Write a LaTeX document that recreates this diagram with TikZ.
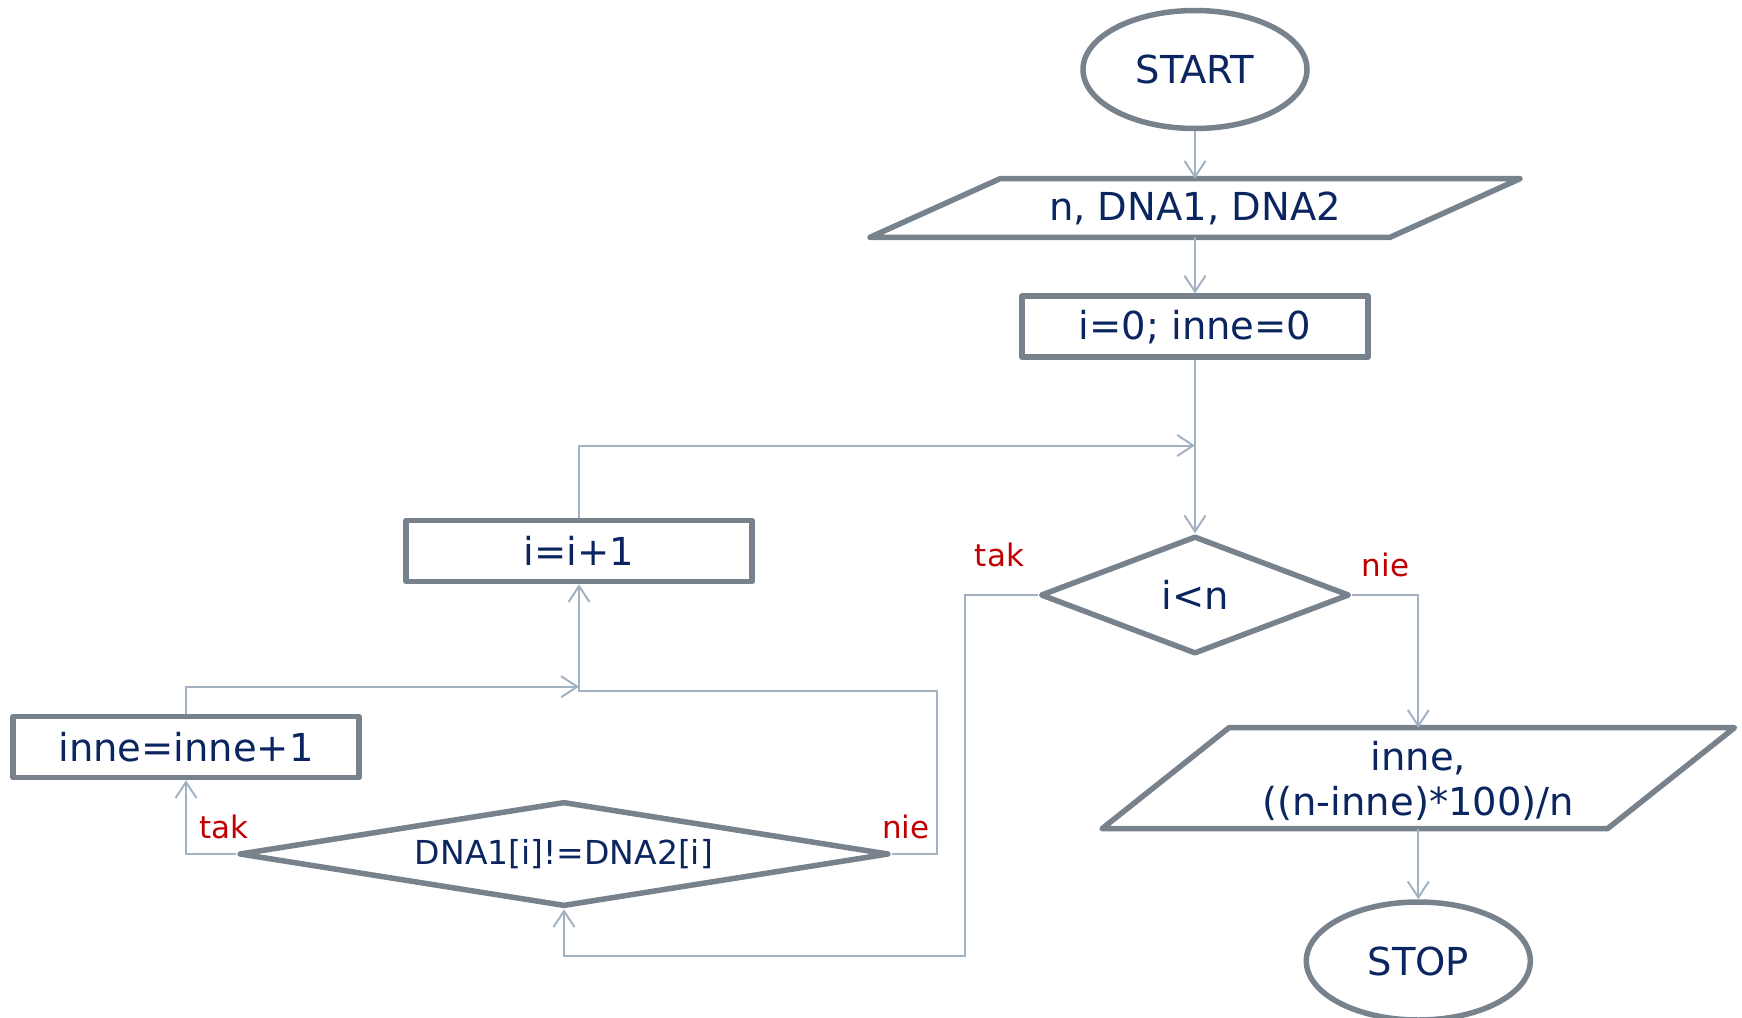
\documentclass[tikz,border=0pt]{standalone}
\usepackage{fontspec}
\setmainfont{DejaVu Sans}
\usetikzlibrary{shapes.geometric,arrows.meta}
\definecolor{edgegray}{HTML}{78828C}
\definecolor{linkblue}{HTML}{A3B2C3}
\definecolor{textnavy}{HTML}{0A2560}
\definecolor{labelred}{HTML}{C00000}

\begin{document}
\begin{tikzpicture}[x=1pt,y=-1pt,
  shapeline/.style={draw=edgegray, line width=5.5pt, line join=round},
  txt/.style={text=textnavy, font=\fontsize{38.5}{45}\selectfont, inner sep=0pt, align=center},
  term/.style={shapeline, txt, ellipse, minimum width=224pt, minimum height=118pt},
  proc/.style={shapeline, txt, rectangle, minimum width=346pt, minimum height=61pt},
  decide/.style={shapeline, txt, diamond},
  link/.style={draw=linkblue, line width=2pt},
  flow/.style={link, -{Straight Barb[length=16pt,width=21pt,line width=2pt]}},
  lbl/.style={text=labelred, font=\fontsize{31}{36}\selectfont, inner sep=0pt, anchor=base}
]
\useasboundingbox (0,0) rectangle (1742,1017);

% terminals, data boxes, processes and decisions
\node[term] (start) at (1195,69.5) {START};

\draw[shapeline] (870,237.3) -- (1000,178.7) -- (1520,178.7) -- (1390,237.3) -- cycle;
\node[txt] (input) at (1195,208) {n, DNA1, DNA2};
\coordinate (inputN) at (1195,178.7);
\coordinate (inputS) at (1195,237.3);

\node[proc] (init) at (1195,326.7) {i=0; inne=0};

\node[decide, aspect=2.6, minimum width=309pt, minimum height=118pt] (cond) at (1195,595) {i<n};
\coordinate (merge) at (1195,445.5);

\node[proc] (incr) at (579,551) {i=i+1};
\node[proc] (count) at (186,747) {inne=inne+1};

\node[decide, aspect=6.2, minimum width=650pt, minimum height=105pt,
      font=\fontsize{33}{40}\selectfont] (cmp) at (564,854) {DNA1[i]!=DNA2[i]};

\draw[shapeline] (1102,828.7) -- (1229,727.7) -- (1734.5,727.7) -- (1607.5,828.7) -- cycle;
\node[txt] (output) at (1418.3,781) {inne,\\((n-inne)*100)/n};
\coordinate (outputN) at (1418.3,727.7);
\coordinate (outputS) at (1418.3,828.7);

\node[term] (stop) at (1418.3,961) {STOP};

% branch labels
\node[lbl] (tak1) at (999.5,566) {tak};
\node[lbl] (nie1) at (1385.5,576.7) {nie};
\node[lbl] (tak2) at (223.7,838.3) {tak};
\node[lbl] (nie2) at (905.8,838.3) {nie};

% connectors
\draw[flow] (start.south) -- (inputN);
\draw[flow] (inputS) -- (init.north);
\draw[link] (init.south) -- (merge);
\draw[flow] (merge) -- (cond.north);
\draw[flow] (incr.north) |- (merge);

\coordinate (yesBend) at (965,955.7);
\draw[flow] (cond.west) -| (yesBend) -| (cmp.south);
\draw[flow] (cond.east) -| (outputN);
\draw[flow] (outputS) -- (stop.north);

\draw[flow] (cmp.west) -| (count.south);
\coordinate (noBend) at (937.3,691);
\draw[flow] (cmp.east) -| (noBend) -| (incr.south);
\coordinate (countJoin) at (579,686.7);
\draw[flow] (count.north) |- (countJoin);
\end{tikzpicture}
\end{document}
